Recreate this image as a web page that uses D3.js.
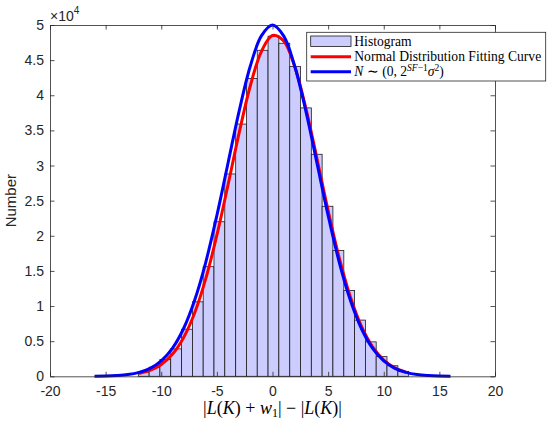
<!DOCTYPE html>
<html>
<head>
<meta charset="utf-8">
<script src="https://cdn.jsdelivr.net/npm/d3@7"></script>
<style>
  body { margin: 0; background: #fff; }
  text { font-family: "Liberation Sans", Arial, sans-serif; }
</style>
</head>
<body>
<svg width="550" height="424"></svg>
<script>
// histogram: bin edges and counts
var binEdges = [-12.06, -11.09, -10.12, -9.15, -8.17, -7.20, -6.23, -5.26, -4.29, -3.31,
                -2.34, -1.37, -0.40, 0.57, 1.55, 2.52, 3.49, 4.46, 5.43, 6.41,
                7.38, 8.35, 9.32, 10.29, 11.27, 12.24];
var binCounts = [600, 1300, 2400, 3900, 6700, 10600, 15600, 22000, 28800, 35900,
                 42400, 46400, 48400, 47400, 44100, 38200, 31600, 24200, 17900, 12200,
                 8000, 4900, 2800, 1500, 700];

// red fitted curve
var fitX = [-12, -11, -10, -9, -8, -7, -6, -5, -4, -3, -2, -1, 0,
            1, 2, 3, 4, 5, 6, 7, 8, 9, 10, 11, 12];
var fitY = [400, 840, 1680, 3130, 5490, 9010, 13900, 20090, 27240, 34640, 41320, 46220, 48500,
            47730, 44060, 38140, 30970, 23580, 16840, 11280, 7090, 4180, 2310, 1200, 580];

// blue theoretical curve
var thX = [-16, -15, -14, -13, -12, -11, -10, -9, -8, -7, -6, -5, -4, -3, -2, -1, 0,
           1, 2, 3, 4, 5, 6, 7, 8, 9, 10, 11, 12, 13, 14, 15, 16];
var thY = [20, 40, 110, 250, 560, 1140, 2200, 3980, 6770, 10820, 16230, 22890, 30330, 37740, 44120, 48460, 50000,
           48460, 44120, 37740, 30330, 22890, 16230, 10820, 6770, 3980, 2200, 1140, 560, 250, 110, 40, 20];

var xTicks = [-20, -15, -10, -5, 0, 5, 10, 15, 20];
var yTicks = [0, 5000, 10000, 15000, 20000, 25000, 30000, 35000, 40000, 45000, 50000];

var svg = d3.select("svg");
var plotL = 50, plotR = 495, plotT = 25, plotB = 376.3;
var axisColor = "#262626";

var x = d3.scaleLinear().domain([-20, 20]).range([plotL, plotR]);
var y = d3.scaleLinear().domain([0, 50000]).range([plotB, plotT]);

// bars
var bins = binCounts.map(function(c, i) { return { x0: binEdges[i], x1: binEdges[i + 1], n: c }; });
svg.append("g").selectAll("rect")
  .data(bins).enter()
  .append("rect")
    .attr("x", function(d) { return x(d.x0); })
    .attr("width", function(d) { return x(d.x1) - x(d.x0); })
    .attr("y", function(d) { return y(d.n); })
    .attr("height", function(d) { return y(0) - y(d.n); })
    .attr("fill", "#ccccff")
    .attr("stroke", "#1a1a1a")
    .attr("stroke-width", 0.8);

var line = d3.line()
  .x(function(d) { return x(d[0]); })
  .y(function(d) { return y(d[1]); })
  .curve(d3.curveCatmullRom);

svg.append("path")
  .datum(d3.zip(fitX, fitY))
  .attr("d", line)
  .attr("fill", "none").attr("stroke", "#ff0000").attr("stroke-width", 3);

svg.append("path")
  .datum(d3.zip(thX, thY))
  .attr("d", line)
  .attr("fill", "none").attr("stroke", "#0000ff").attr("stroke-width", 3);

// axes, matlab style: ticks inside, box all round
function styleAxis(g) {
  g.select(".domain").attr("stroke", axisColor).attr("stroke-width", 0.8);
  g.selectAll(".tick line").attr("stroke", axisColor).attr("stroke-width", 0.8);
  g.selectAll(".tick text").attr("fill", axisColor).style("font-size", "14px")
    .style("font-family", "Liberation Sans, Arial, sans-serif");
}

svg.append("g").attr("transform", "translate(0," + plotB + ")")
  .call(d3.axisBottom(x).tickValues(xTicks).tickSizeInner(-4.5).tickSizeOuter(0).tickPadding(10)
    .tickFormat(function(d) { return String(d); }))
  .call(styleAxis);

svg.append("g").attr("transform", "translate(0," + plotT + ")")
  .call(d3.axisTop(x).tickValues(xTicks).tickSizeInner(-4.5).tickSizeOuter(0).tickFormat(""))
  .call(styleAxis);

svg.append("g").attr("transform", "translate(" + plotL + ",0)")
  .call(d3.axisLeft(y).tickValues(yTicks).tickSizeInner(-4.5).tickSizeOuter(0).tickPadding(6)
    .tickFormat(function(d) { return String(d / 10000); }))
  .call(styleAxis);

svg.append("g").attr("transform", "translate(" + plotR + ",0)")
  .call(d3.axisRight(y).tickValues(yTicks).tickSizeInner(-4.5).tickSizeOuter(0).tickFormat(""))
  .call(styleAxis);

// exponent label
var ex = svg.append("text").attr("x", plotL).attr("y", 21).attr("fill", axisColor).style("font-size", "14px");
ex.append("tspan").text("×10");
ex.append("tspan").attr("dy", -7).style("font-size", "10px").text("4");

// y label
svg.append("text")
  .attr("transform", "translate(16," + ((plotT + plotB) / 2) + ") rotate(-90)")
  .attr("text-anchor", "middle")
  .attr("fill", axisColor)
  .style("font-size", "15px")
  .text("Number");

// x label (latex-ish)
var serif = "Liberation Serif, Times New Roman, serif";
var xl = svg.append("text")
  .attr("x", (plotL + plotR) / 2).attr("y", 414)
  .attr("text-anchor", "middle")
  .attr("fill", "#000")
  .style("font-family", serif).style("font-size", "18px");
xl.append("tspan").text("|");
xl.append("tspan").style("font-style", "italic").text("L");
xl.append("tspan").text("(");
xl.append("tspan").style("font-style", "italic").text("K");
xl.append("tspan").text(") + ");
xl.append("tspan").style("font-style", "italic").text("w");
xl.append("tspan").attr("dy", 3).style("font-size", "12px").text("1");
xl.append("tspan").attr("dy", -3).text("| − |");
xl.append("tspan").style("font-style", "italic").text("L");
xl.append("tspan").text("(");
xl.append("tspan").style("font-style", "italic").text("K");
xl.append("tspan").text(")|");

// legend
var lg = svg.append("g");
lg.append("rect")
  .attr("x", 306.7).attr("y", 32.3).attr("width", 239).attr("height", 48.7)
  .attr("fill", "#fff").attr("stroke", "#262626").attr("stroke-width", 0.8);
lg.append("rect")
  .attr("x", 310.7).attr("y", 36).attr("width", 40.3).attr("height", 10.5)
  .attr("fill", "#ccccff").attr("stroke", "#1a1a1a").attr("stroke-width", 0.8);
lg.append("line").attr("x1", 310.7).attr("x2", 351).attr("y1", 56.7).attr("y2", 56.7)
  .attr("stroke", "#ff0000").attr("stroke-width", 3);
lg.append("line").attr("x1", 310.7).attr("x2", 351).attr("y1", 71.7).attr("y2", 71.7)
  .attr("stroke", "#0000ff").attr("stroke-width", 3);

function legendText(yy) {
  return lg.append("text").attr("x", 354.3).attr("y", yy).attr("fill", "#000")
    .style("font-family", serif).style("font-size", "13.6px");
}
legendText(45.5).text("Histogram");
legendText(61).text("Normal Distribution Fitting Curve");
var t3 = legendText(76.2);
t3.append("tspan").style("font-style", "italic").text("N");
t3.append("tspan").text(" ∼ (0, 2");
t3.append("tspan").attr("dy", -5).style("font-size", "9.5px").style("font-style", "italic").text("SF");
t3.append("tspan").style("font-size", "9.5px").text("−1");
t3.append("tspan").attr("dy", 5).style("font-style", "italic").text("σ");
t3.append("tspan").attr("dy", -5).style("font-size", "9.5px").text("2");
t3.append("tspan").attr("dy", 5).text(")");
</script>
</body>
</html>
